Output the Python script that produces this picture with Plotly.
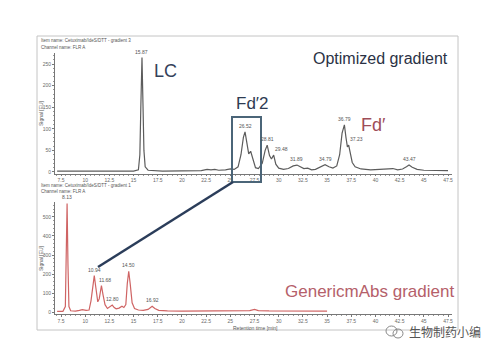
import plotly.graph_objects as go

W, H = 494, 352

# ---------------- data ----------------
top_time = [7.1, 10.0, 12.5, 15.0, 15.5, 15.65, 15.75, 15.87, 15.97, 16.07, 16.2, 16.5, 18.0, 20.0,
            22.0, 22.6, 23.0, 23.4, 23.8, 24.5, 25.0, 25.4, 25.8, 26.1, 26.35, 26.52, 26.7, 26.9,
            27.1, 27.3, 27.6, 27.9, 28.3, 28.6, 28.81, 29.05, 29.25, 29.48, 29.7, 30.0, 30.5, 31.0,
            31.5, 31.89, 32.2, 32.6, 33.0, 33.4, 33.8, 34.3, 34.79, 35.2, 35.6, 36.0, 36.3, 36.55,
            36.79, 36.95, 37.1, 37.23, 37.4, 37.6, 37.9, 38.5, 39.5, 40.3, 40.8, 41.3, 41.8, 42.3,
            42.8, 43.2, 43.47, 43.8, 44.3, 45.0, 46.0, 47.5]
top_signal = [2, 2, 2, 2, 5, 40, 150, 265, 160, 50, 12, 4, 2, 2,
              3, 6, 5, 6, 4, 5, 7, 6, 12, 40, 80, 93, 65, 42,
              48, 30, 10, 8, 20, 50, 62, 38, 30, 39, 18, 9, 6, 8,
              14, 16, 12, 8, 9, 5, 6, 12, 17, 12, 9, 14, 40, 90,
              109, 80, 58, 62, 45, 22, 12, 7, 5, 6, 8, 7, 8, 5,
              7, 12, 16, 11, 6, 4, 3, 3]

bot_time = [7.1, 7.7, 7.95, 8.03, 8.13, 8.22, 8.32, 8.5, 9.0, 9.4, 9.7, 10.1, 10.4, 10.6, 10.8,
            10.94, 11.1, 11.3, 11.45, 11.6, 11.68, 11.85, 12.05, 12.3, 12.6, 12.8, 13.0, 13.2,
            13.5, 13.8, 14.0, 14.2, 14.35, 14.5, 14.65, 14.85, 15.1, 15.5, 16.0, 16.5, 16.92,
            17.2, 17.6, 18.5, 20.0, 22.5, 25.0, 27.0, 27.5, 27.9, 29.0, 32.0, 35.0]
bot_signal = [5, 5, 30, 250, 570, 250, 30, 8, 6, 10, 14, 10, 12, 60, 160,
              192, 130, 55, 70, 130, 140, 90, 40, 20, 30, 38, 25, 18,
              22, 32, 25, 40, 150, 215, 150, 50, 20, 12, 10, 15, 32,
              20, 10, 7, 6, 6, 7, 9, 15, 9, 7, 6, 6]

top_peaks = ["15.87", "26.52", "28.81", "29.48", "31.89", "34.79", "36.79", "37.23", "43.47"]
top_peak_h = [265, 93, 62, 39, 16, 17, 109, 62, 16]
bot_peaks = ["8.13", "10.94", "11.68", "12.80", "14.50", "16.92"]
bot_peak_h = [570, 192, 140, 38, 215, 32]

x_ticks = [7.5 + 2.5 * i for i in range(17)]
x_tick_text = [("%g" % v) for v in x_ticks]
top_y_ticks = [0, 50, 100, 150, 200, 250]
bot_y_ticks = [0, 100, 200, 300, 400, 500]

# ---------------- helpers ----------------
def px_x(p):
    return p / W

def px_y(p):
    return 1 - p / H

fig = go.Figure()
fig.add_trace(go.Scatter(x=top_time, y=top_signal, mode="lines",
                         line=dict(color="#5c5c5c", width=1.2), xaxis="x", yaxis="y",
                         showlegend=False, hoverinfo="skip"))
fig.add_trace(go.Scatter(x=bot_time, y=bot_signal, mode="lines",
                         line=dict(color="#cf6464", width=1.2), xaxis="x2", yaxis="y2",
                         showlegend=False, hoverinfo="skip"))

tickfont = dict(size=5, color="#6a6a6a", family="Liberation Sans, Arial")
xcommon = dict(range=[6.88, 47.91], domain=[px_x(55), px_x(452)], tickmode="array",
               tickvals=x_ticks, ticktext=x_tick_text, showline=True, linecolor="#777",
               linewidth=1, ticks="outside", ticklen=1.5, tickcolor="#777", tickfont=tickfont,
               showgrid=False, zeroline=False,
               minor=dict(dtick=0.5, tick0=0, ticks="outside", ticklen=1, tickcolor="#999"))
ycommon = dict(showline=True, linecolor="#777", linewidth=1, ticks="outside", ticklen=2,
               tickcolor="#777", tickfont=tickfont, showgrid=False, zeroline=False,
               tickmode="array")

fig.update_layout(
    width=W, height=H, margin=dict(l=0, r=0, t=0, b=0), autosize=False,
    paper_bgcolor="white", plot_bgcolor="white",
    xaxis=dict(anchor="y", **xcommon),
    yaxis=dict(anchor="x", domain=[px_y(173.5), px_y(53)], range=[-3.5, 275.5],
               tickvals=top_y_ticks, ticktext=[str(v) for v in top_y_ticks],
               minor=dict(dtick=10, ticks="outside", ticklen=1.2, tickcolor="#999"), **ycommon),
    xaxis2=dict(anchor="y2", **xcommon),
    yaxis2=dict(anchor="x2", domain=[px_y(314), px_y(202)], range=[-8.9, 577.5],
                tickvals=bot_y_ticks, ticktext=[str(v) for v in bot_y_ticks],
                minor=dict(dtick=20, ticks="outside", ticklen=1.2, tickcolor="#999"), **ycommon),
)

ann = []
small = dict(size=5, color="#555", family="Liberation Sans, Arial")
head = dict(size=4.5, color="#555", family="Liberation Sans, Arial")
# peak labels
for t, h in zip(top_peaks, top_peak_h):
    xs = 0
    if t in ("37.23", "29.48"):
        xs = 8
    ann.append(dict(x=float(t), y=h, xref="x", yref="y", text=t, showarrow=False,
                    yanchor="bottom", yshift=1, xshift=xs, font=small))
for t, h in zip(bot_peaks, bot_peak_h):
    xs = 0
    if t == "11.68":
        xs = 4
    ann.append(dict(x=float(t), y=h, xref="x2", yref="y2", text=t, showarrow=False,
                    yanchor="bottom", yshift=1, xshift=xs, font=small))

def ptext(x, y, text, font, xanchor="left", **kw):
    return dict(x=px_x(x), y=px_y(y), xref="paper", yref="paper", text=text, showarrow=False,
                xanchor=xanchor, yanchor="middle", font=font, **kw)

# header texts
ann += [
    ptext(39, 41, "Item name: Cetuximab/IdeS/DTT - gradient 3", head),
    ptext(39, 47, "Channel name: FLR A", head),
    ptext(39, 185.5, "Item name: Cetuximab/IdeS/DTT - gradient 1", head),
    ptext(39, 191, "Channel name: FLR A", head),
    ptext(41, 113, "Signal [EU]", small, xanchor="center", textangle=-90),
    ptext(41, 258, "Signal [EU]", small, xanchor="center", textangle=-90),
    ptext(255, 328, "Retention time [min]", small, xanchor="center"),
]

big = "Liberation Sans, Arial"
ann += [
    ptext(152, 71, "LC", dict(size=18, color="#34425a", family=big)),
    ptext(450, 58, "Optimized gradient", dict(size=16, color="#2b3245", family=big), xanchor="right"),
    ptext(234, 104, "Fd\u20322", dict(size=17, color="#2e3b52", family=big)),
    ptext(359, 125, "Fd\u2032", dict(size=18, color="#9e4d58", family=big)),
    ptext(456, 291, "GenericmAbs gradient", dict(size=17, color="#b5606a", family=big), xanchor="right"),
    ptext(407, 331, "生物制药小编", dict(size=12, color="#555", family="Noto Sans CJK SC")),
]
fig.update_layout(annotations=ann)

shapes = [
    # outer frame
    dict(type="rect", xref="paper", yref="paper", x0=px_x(37), x1=px_x(458), y0=px_y(330), y1=px_y(36),
         line=dict(color="#c4c4c4", width=1), layer="below"),
    # zoom box
    dict(type="rect", xref="paper", yref="paper", x0=px_x(232), x1=px_x(261), y0=px_y(182), y1=px_y(117),
         line=dict(color="#4b6578", width=2)),
    # connector line
    dict(type="line", xref="paper", yref="paper", x0=px_x(233), y0=px_y(182), x1=px_x(98), y1=px_y(267),
         line=dict(color="#2b3d5a", width=2.5)),
    # watermark icon
    dict(type="circle", xref="paper", yref="paper", x0=px_x(386), x1=px_x(397), y0=px_y(336), y1=px_y(326),
         line=dict(color="#888", width=1)),
    dict(type="circle", xref="paper", yref="paper", x0=px_x(393), x1=px_x(403), y0=px_y(338), y1=px_y(329),
         line=dict(color="#888", width=1)),
]
fig.update_layout(shapes=shapes)

fig.write_html("out.html")
